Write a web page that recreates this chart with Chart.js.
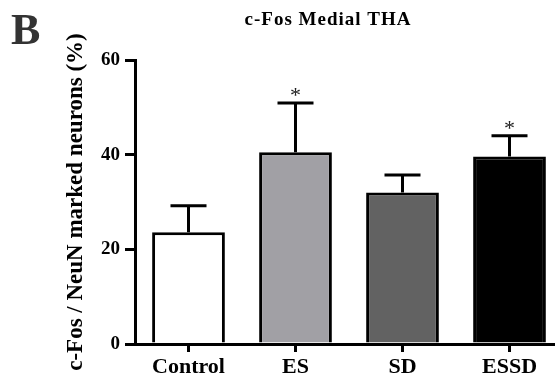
<!DOCTYPE html>
<html>
<head>
<meta charset="utf-8">
<script src="https://cdn.jsdelivr.net/npm/chart.js@4.4.1/dist/chart.umd.min.js"></script>
<style>
  html, body { margin: 0; padding: 0; background: #fff; overflow: hidden; }
  #wrap { position: relative; width: 570px; height: 380px; }
</style>
</head>
<body>
<div id="wrap"><canvas id="myChart"></canvas></div>
<script>
const categories = ['Control', 'ES', 'SD', 'ESSD'];
const means = [23.6, 40.5, 32.0, 39.6];
const sem = [5.6, 10.4, 3.7, 4.4];
const stars = ['', '*', '', '*'];
const yTicks = [0, 20, 40, 60];
const fillColors = ['#ffffff', '#a1a0a5', '#626262', '#000000'];
const chartTitle = 'c-Fos Medial THA';

const serif = "'Liberation Serif', 'Times New Roman', serif";

// error bars, significance stars, title and panel letter
const errorBarPlugin = {
  id: 'errorBars',
  afterDatasetsDraw(chart) {
    const ctx = chart.ctx;
    const meta = chart.getDatasetMeta(0);
    const yScale = chart.scales.y;
    ctx.save();
    ctx.strokeStyle = '#000';
    ctx.lineWidth = 3;
    meta.data.forEach((bar, i) => {
      const x = bar.x;
      const yTop = yScale.getPixelForValue(means[i]);
      const yErr = yScale.getPixelForValue(means[i] + sem[i]);
      ctx.beginPath();
      ctx.moveTo(x, yTop);
      ctx.lineTo(x, yErr);
      ctx.moveTo(x - 18, yErr);
      ctx.lineTo(x + 18, yErr);
      ctx.stroke();
      if (stars[i]) {
        ctx.fillStyle = '#222';
        ctx.font = '22px ' + serif;
        ctx.textAlign = 'center';
        ctx.textBaseline = 'alphabetic';
        ctx.fillText(stars[i], x, yErr - 1);
      }
    });
    ctx.fillStyle = '#000';
    ctx.font = 'bold 19px ' + serif;
    ctx.textAlign = 'center';
    ctx.textBaseline = 'middle';
    ctx.letterSpacing = '1px';
    ctx.fillText(chartTitle, 328, 20);
    ctx.letterSpacing = '0px';
    // panel letter
    ctx.fillStyle = '#333';
    ctx.font = 'bold 44px ' + serif;
    ctx.textAlign = 'left';
    ctx.textBaseline = 'alphabetic';
    ctx.fillText('B', 11, 44);
    ctx.restore();
  }
};

const ctx = document.getElementById('myChart');

new Chart(ctx, {
  type: 'bar',
  data: {
    labels: categories,
    datasets: [{
      data: means,
      backgroundColor: fillColors,
      borderColor: '#000',
      borderWidth: 3,
      borderSkipped: 'bottom',
      barPercentage: 0.68,
      categoryPercentage: 1
    }]
  },
  options: {
    responsive: true,
    maintainAspectRatio: false,
    animation: false,
    layout: { padding: { left: 0, right: 7, top: 60, bottom: 0 } },
    plugins: {
      legend: { display: false },
      tooltip: { enabled: false },
      title: { display: false }
    },
    scales: {
      x: {
        offset: true,
        grid: {
          display: true,
          offset: false,
          drawOnChartArea: false,
          drawTicks: true,
          tickLength: 8,
          tickWidth: 3,
          tickColor: '#000',
          color: '#000',
          lineWidth: 3
        },
        border: { display: true, color: '#000', width: 3 },
        ticks: {
          color: '#000',
          padding: 2,
          maxRotation: 0,
          font: { family: serif, size: 22, weight: 'bold' }
        },
        afterFit(scale) { scale.height = 36; }
      },
      y: {
        min: 0,
        max: 60,
        afterBuildTicks(scale) { scale.ticks = yTicks.map(v => ({ value: v })); },
        grid: {
          display: true,
          drawOnChartArea: false,
          drawTicks: true,
          tickLength: 10,
          tickWidth: 3,
          tickColor: '#000',
          color: '#000',
          lineWidth: 3
        },
        border: { display: true, color: '#000', width: 3 },
        ticks: {
          color: '#000',
          padding: 5,
          font: { family: serif, size: 19, weight: 'bold' }
        },
        title: {
          display: true,
          text: 'c-Fos / NeuN marked neurons (%)',
          color: '#000',
          font: { family: serif, size: 23, weight: 'bold' },
          padding: { top: 62, bottom: 0 }
        },
        afterFit(scale) { scale.width = 135; }
      }
    }
  },
  plugins: [errorBarPlugin]
});
</script>
</body>
</html>
